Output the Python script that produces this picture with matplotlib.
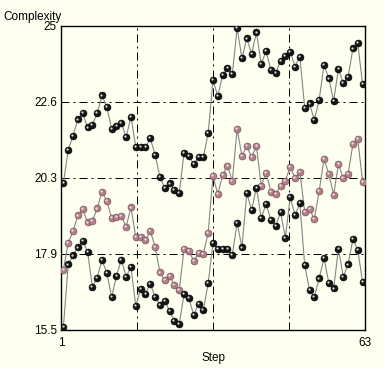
import matplotlib
matplotlib.use("Agg")
import matplotlib.pyplot as plt
from matplotlib.transforms import offset_copy

steps = list(range(1, 64))

upper_black = [20.10, 21.13, 21.57, 22.08, 22.27, 21.83, 21.92, 22.27, 22.83, 22.46,
               21.78, 21.88, 21.98, 21.52, 22.17, 21.21, 21.21, 21.21, 21.49, 20.97,
               20.29, 19.93, 20.08, 19.88, 19.77, 21.04, 20.94, 20.68, 20.90, 20.90,
               21.65, 23.31, 22.81, 23.47, 23.68, 23.50, 24.93, 23.99, 24.61, 24.13,
               24.80, 23.81, 24.22, 23.63, 23.54, 23.92, 24.06, 24.20, 23.73, 24.04,
               22.45, 22.58, 22.06, 22.69, 23.78, 23.36, 22.66, 23.65, 23.21, 23.40,
               24.30, 24.46, 23.18]

pink = [17.38, 18.23, 18.59, 19.08, 19.27, 18.86, 18.91, 19.30, 19.82, 19.53,
        18.99, 19.04, 19.06, 18.73, 19.33, 18.40, 18.40, 18.31, 18.60, 18.10,
        17.30, 17.06, 17.19, 16.91, 16.75, 18.02, 17.98, 17.66, 17.90, 17.87,
        18.54, 20.31, 19.75, 20.34, 20.64, 20.16, 21.77, 20.94, 21.25, 20.90,
        21.25, 20.01, 20.42, 19.82, 19.75, 20.01, 20.17, 20.60, 20.24, 20.45,
        19.20, 19.27, 18.97, 19.84, 20.84, 20.38, 19.72, 20.69, 20.24, 20.38,
        21.31, 21.46, 20.14]

lower_black = [15.60, 17.55, 17.83, 18.08, 18.28, 17.95, 16.85, 17.14, 17.69, 17.27,
               16.54, 17.19, 17.69, 17.17, 17.46, 16.24, 16.78, 16.64, 16.95, 16.54,
               16.29, 16.41, 16.09, 15.78, 15.68, 16.62, 16.49, 15.97, 16.31, 16.13,
               16.96, 18.22, 18.04, 18.02, 18.04, 17.84, 18.85, 18.08, 19.77, 19.25,
               19.95, 18.99, 19.44, 18.94, 18.76, 19.18, 18.39, 19.65, 19.09, 19.46,
               17.53, 16.75, 16.54, 17.11, 17.74, 16.98, 16.80, 18.03, 17.17, 17.55,
               18.34, 18.00, 17.01]

y_ticks = [15.5, 17.875, 20.25, 22.625, 25.0]
y_tick_labels = ["15.5", "17.9", "20.3", "22.6", "25"]
x_tick_labels = ["1", "63"]

bg = "#FFFFF0"
plt.rcParams['font.family'] = ['Liberation Sans', 'DejaVu Sans']

fig = plt.figure(figsize=(3.84, 3.68), dpi=100, facecolor=bg)
ax = fig.add_axes([61/384, 38/368, 304/384, 304/368], facecolor=bg)

xmin, xmax = 0.5, 63.5
ax.set_xlim(xmin, xmax)
ax.set_ylim(15.5, 25)

# grid at quarters
for q in [0.25, 0.5, 0.75]:
    ax.axvline(xmin + q * (xmax - xmin), color="black", lw=0.72,
               linestyle=(0, (8, 4, 2, 4)), zorder=1)
for yv in y_ticks[1:4]:
    ax.axhline(yv, color="black", lw=0.72, linestyle=(0, (8, 4, 2, 4)), zorder=1)

hl = offset_copy(ax.transData, fig=fig, x=-0.9, y=0.9, units='dots')

series = [
    (upper_black, "#151515", "#000000", "#D8D8D8"),
    (pink, "#B0808A", "#6A4850", "#F6E2E6"),
    (lower_black, "#151515", "#000000", "#D8D8D8"),
]
for vals, fc, ec, hc in series:
    ax.plot(steps, vals, color="#858585", lw=0.8, zorder=2)
    ax.plot(steps, vals, linestyle="none", marker="o", markersize=5.0,
            markerfacecolor=fc, markeredgecolor=ec, markeredgewidth=0.4, zorder=3)
    ax.plot(steps, vals, linestyle="none", marker="o", markersize=1.6,
            markerfacecolor=hc, markeredgecolor="none", transform=hl, zorder=4)

for s in ax.spines.values():
    s.set_color("black")
    s.set_linewidth(1.0)

fs = 8.5
ax.set_yticks(y_ticks)
ax.set_yticklabels(y_tick_labels)
ax.set_xticks([xmin, xmax])
ax.set_xticklabels(x_tick_labels)
ax.tick_params(length=0, labelsize=fs, colors="black")
ax.tick_params(axis='y', pad=3)
ax.tick_params(axis='x', pad=5)

ax.set_xlabel("Step", fontsize=fs, labelpad=2)
fig.text(3/384, 1 - 17/368, "Complexity", fontsize=fs, ha="left", va="center")

fig.savefig("out.png", dpi=100, facecolor=bg)
